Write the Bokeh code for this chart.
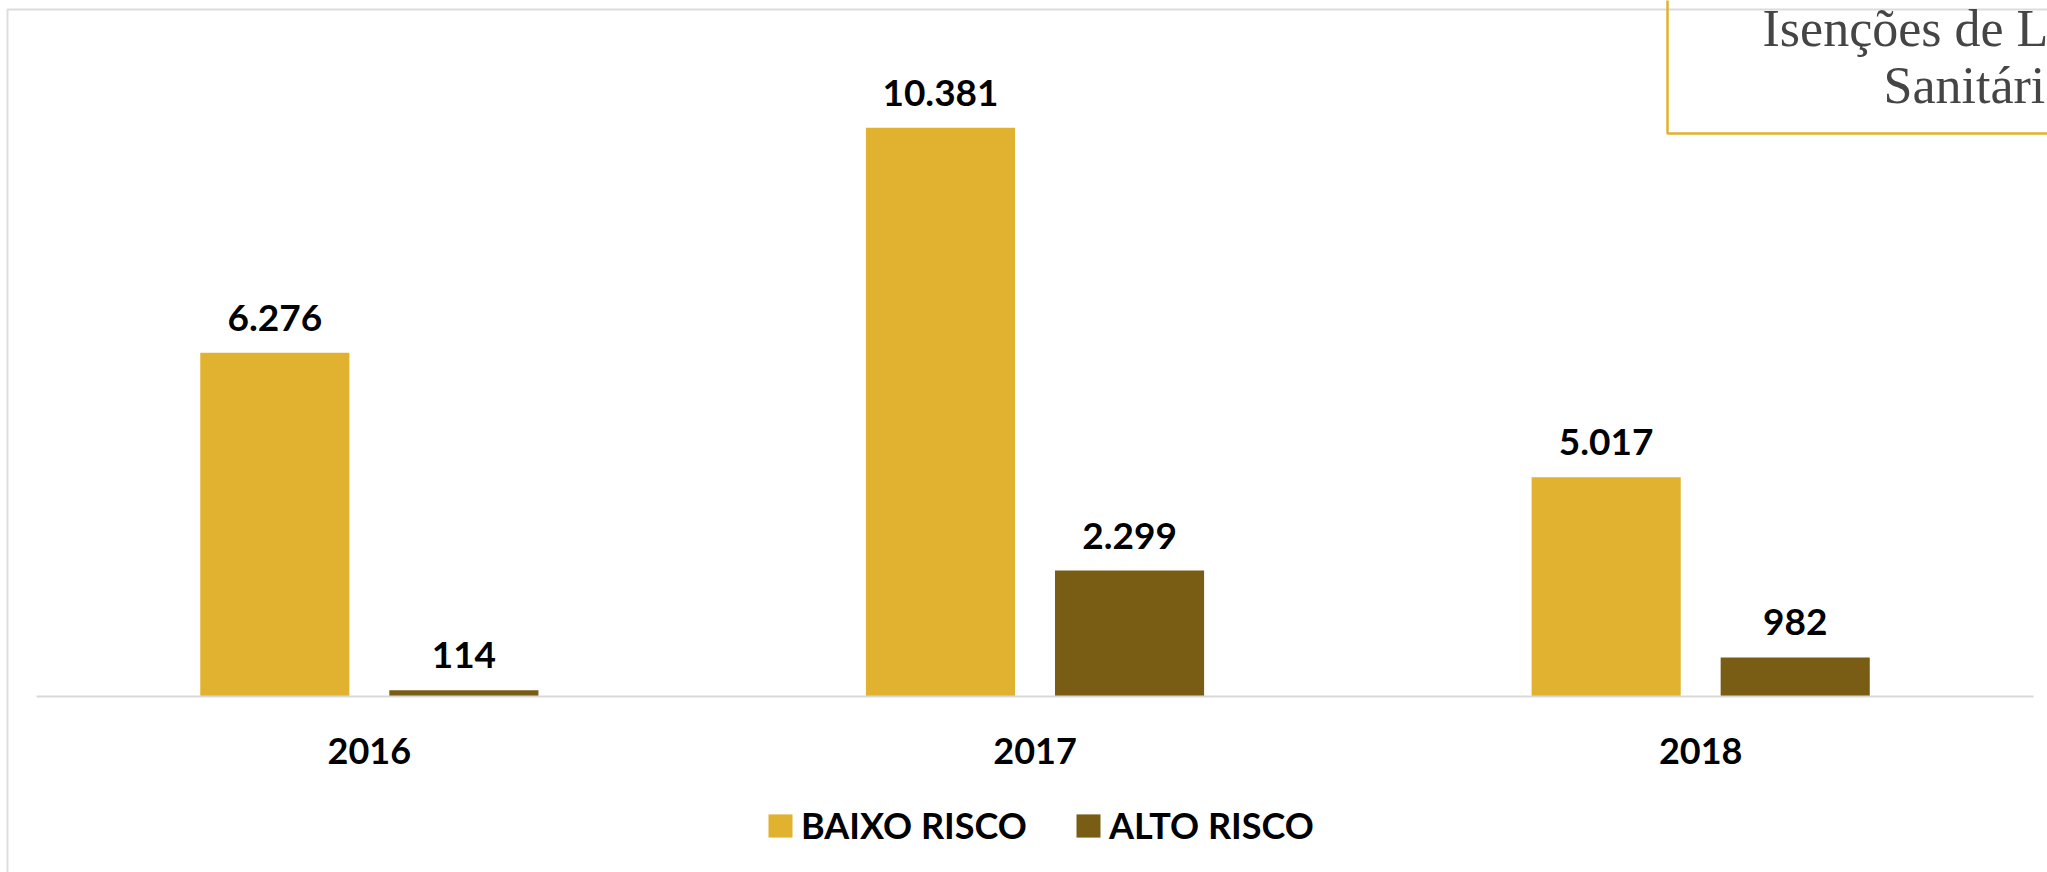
import numpy as np
from bokeh.plotting import figure
from bokeh.models import (ColumnDataSource, Range1d, Legend, LegendItem,
                          BoxAnnotation, Label)
from bokeh.core.properties import value
from bokeh.embed import file_html
from bokeh.resources import INLINE

# ---- data ----
years = ["2016", "2017", "2018"]
series = ["BAIXO RISCO", "ALTO RISCO"]
# bar heights as drawn (the 2018 bars are drawn shorter than their printed values)
baixo = [6276, 10381, 4000]
alto = [114, 2299, 712]
baixo_labels = ["6.276", "10.381", "5.017"]
alto_labels = ["114", "2.299", "982"]
title_lines = ["Isenções de Licença", "Sanitária"]

GOLD = "#E1B22F"
BROWN = "#7A5D15"
FONT = "Lato"

W, H = 2047, 872
off = 0.142   # half distance between the two bars of a year (category units)
bw = 0.224    # bar width (category units)

xc = np.arange(len(years)) + 0.5
src = ColumnDataSource(dict(year=years, xc=xc, xb=xc - off, xa=xc + off,
                            baixo=baixo, alto=alto,
                            baixo_lbl=baixo_labels, alto_lbl=alto_labels,
                            zero=[0] * len(years)))

p = figure(width=W, height=H,
           x_range=Range1d(-0.0541, len(years) + 0.021),
           y_range=Range1d(-3213, 12705),
           output_backend="svg", toolbar_location=None,
           x_axis_location=None, y_axis_location=None,
           min_border=0)
p.outline_line_color = None
p.xgrid.grid_line_color = None
p.ygrid.grid_line_color = None
p.background_fill_color = "white"
p.border_fill_color = "white"

r1 = p.vbar(x="xb", top="baixo", width=bw, bottom=0, source=src,
            fill_color=GOLD, line_color=None)
r2 = p.vbar(x="xa", top="alto", width=bw, bottom=0, source=src,
            fill_color=BROWN, line_color=None)

# category axis baseline, spanning the three categories
p.segment(x0=0, x1=len(years), y0=0, y1=0, line_color="#D9D9D9", line_width=2)

# value labels
for xcol, ycol, lbl in (("xb", "baixo", "baixo_lbl"), ("xa", "alto", "alto_lbl")):
    p.text(x=xcol, y=ycol, text=lbl, source=src,
           text_align="center", text_baseline="alphabetic", y_offset=-35,
           text_font=value(FONT), text_font_style="bold", text_font_size="37px",
           text_color="black")

# category (year) labels
p.text(x="xc", y="zero", text="year", source=src,
       text_align="center", text_baseline="alphabetic", y_offset=55,
       text_font=value(FONT), text_font_style="bold", text_font_size="36px",
       text_color="black")

# outer light-grey frame of the panel
p.add_layout(BoxAnnotation(left=7, right=2400, top=H - 9, bottom=-400,
                           left_units="screen", right_units="screen",
                           top_units="screen", bottom_units="screen",
                           fill_color=None, line_color="#DCDCDC",
                           line_alpha=1.0, line_width=2))
# title box (top right)
p.add_layout(BoxAnnotation(left=1667, right=2400, top=H + 50, bottom=H - 133,
                           left_units="screen", right_units="screen",
                           top_units="screen", bottom_units="screen",
                           fill_color=None, line_color=GOLD,
                           line_alpha=1.0, line_width=2.5))
p.add_layout(Label(x=1762, y=H - 28, x_units="screen", y_units="screen",
                   text=title_lines[0], text_font="Liberation Serif",
                   text_font_size="52px", text_color="#454545",
                   text_baseline="alphabetic", text_align="left"))
p.add_layout(Label(x=1883, y=H - 85, x_units="screen", y_units="screen",
                   text=title_lines[1], text_font="Liberation Serif",
                   text_font_size="52px", text_color="#454545",
                   text_baseline="alphabetic", text_align="left"))

legend = Legend(items=[LegendItem(label=series[0], renderers=[r1]),
                       LegendItem(label=series[1], renderers=[r2])],
                orientation="horizontal", location=(765, 25),
                glyph_width=30, glyph_height=29, label_standoff=6, spacing=46,
                padding=0, margin=0, border_line_color=None,
                background_fill_alpha=0,
                label_text_font=FONT, label_text_font_style="bold",
                label_text_font_size="36px", label_text_color="black")
p.add_layout(legend, "center")

open("out.html", "w").write(file_html(p, INLINE))
